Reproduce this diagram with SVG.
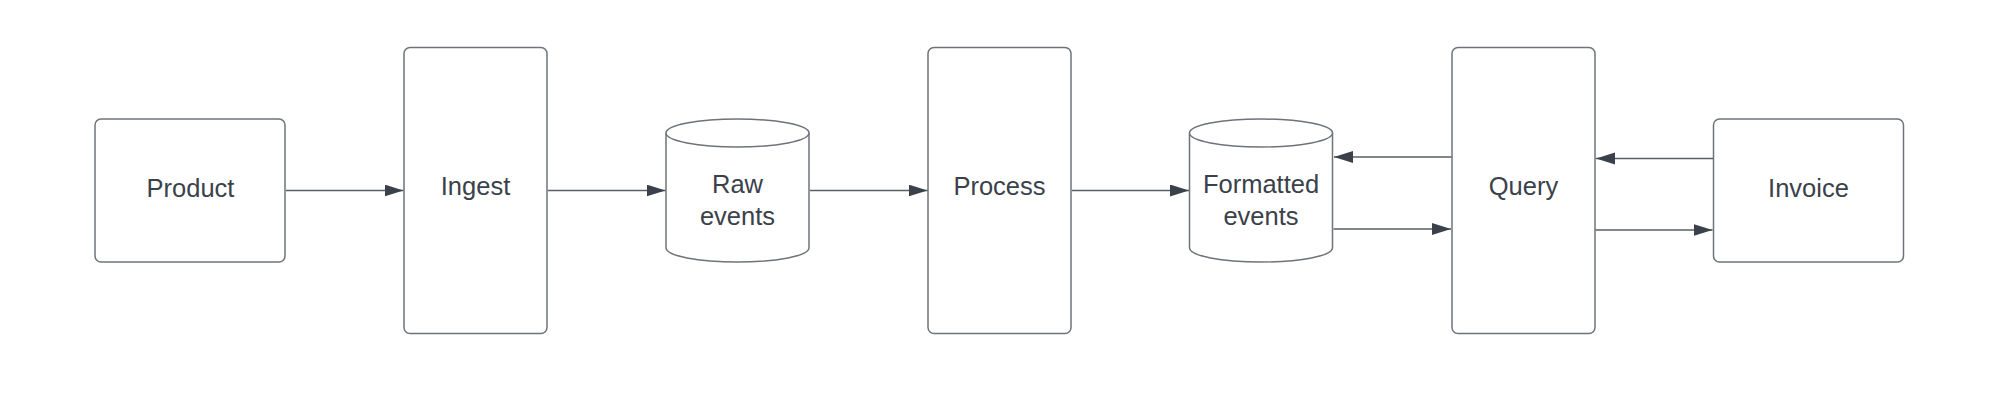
<svg xmlns="http://www.w3.org/2000/svg" width="1999" height="406" viewBox="0 0 1999 406">
<defs>
<style>
.box{fill:#fff;stroke:#6f7379;stroke-width:1.5}
.lbl{font-family:"Liberation Sans",Arial,sans-serif;font-size:25.5px;fill:#3a414a;text-anchor:middle}
.edge{stroke:#5a5f66;stroke-width:1.6;fill:none;marker-end:url(#ah)}
</style>
<marker id="ah" markerUnits="userSpaceOnUse" markerWidth="20" markerHeight="13" refX="19" refY="6" orient="auto">
<path d="M0,0 L19,6 L0,12 Z" fill="#3a414a"/>
</marker>
</defs>
<rect width="1999" height="406" fill="#fff"/>
<g id="product">
<rect class="box" x="95" y="119" width="190" height="143" rx="6"/>
<text class="lbl" x="190.5" y="196.5">Product</text>
</g>
<g id="ingest">
<rect class="box" x="404" y="47.5" width="143" height="286" rx="6"/>
<text class="lbl" x="475.5" y="195">Ingest</text>
</g>
<g id="raw-events">
<path class="box" d="M666,133 A71.5,14 0 0 1 809,133 V248 A71.5,14 0 0 1 666,248 Z"/>
<path class="box" d="M666,133 A71.5,14 0 0 0 809,133" fill="none"/>
<text class="lbl" x="737.5" y="193">Raw</text>
<text class="lbl" x="737.5" y="224.5">events</text>
</g>
<g id="process">
<rect class="box" x="928" y="47.5" width="143" height="286" rx="6"/>
<text class="lbl" x="999.5" y="195">Process</text>
</g>
<g id="formatted-events">
<path class="box" d="M1189.5,133 A71.5,14 0 0 1 1332.5,133 V248 A71.5,14 0 0 1 1189.5,248 Z"/>
<path class="box" d="M1189.5,133 A71.5,14 0 0 0 1332.5,133" fill="none"/>
<text class="lbl" x="1261" y="193">Formatted</text>
<text class="lbl" x="1261" y="224.5">events</text>
</g>
<g id="query">
<rect class="box" x="1452" y="47.5" width="143" height="286" rx="6"/>
<text class="lbl" x="1523.5" y="195">Query</text>
</g>
<g id="invoice">
<rect class="box" x="1713.5" y="119" width="190" height="143" rx="6"/>
<text class="lbl" x="1808.5" y="196.5">Invoice</text>
</g>
<g id="connectors">
<line class="edge" x1="286" y1="190.5" x2="403.5" y2="190.5"/>
<line class="edge" x1="548" y1="190.5" x2="665.5" y2="190.5"/>
<line class="edge" x1="810" y1="190.5" x2="927.5" y2="190.5"/>
<line class="edge" x1="1072" y1="190.5" x2="1189" y2="190.5"/>
<line class="edge" x1="1451.5" y1="157" x2="1334" y2="157"/>
<line class="edge" x1="1333.5" y1="229" x2="1451" y2="229"/>
<line class="edge" x1="1713" y1="158.5" x2="1596" y2="158.5"/>
<line class="edge" x1="1595.5" y1="230" x2="1712.5" y2="230"/>
</g>
</svg>
